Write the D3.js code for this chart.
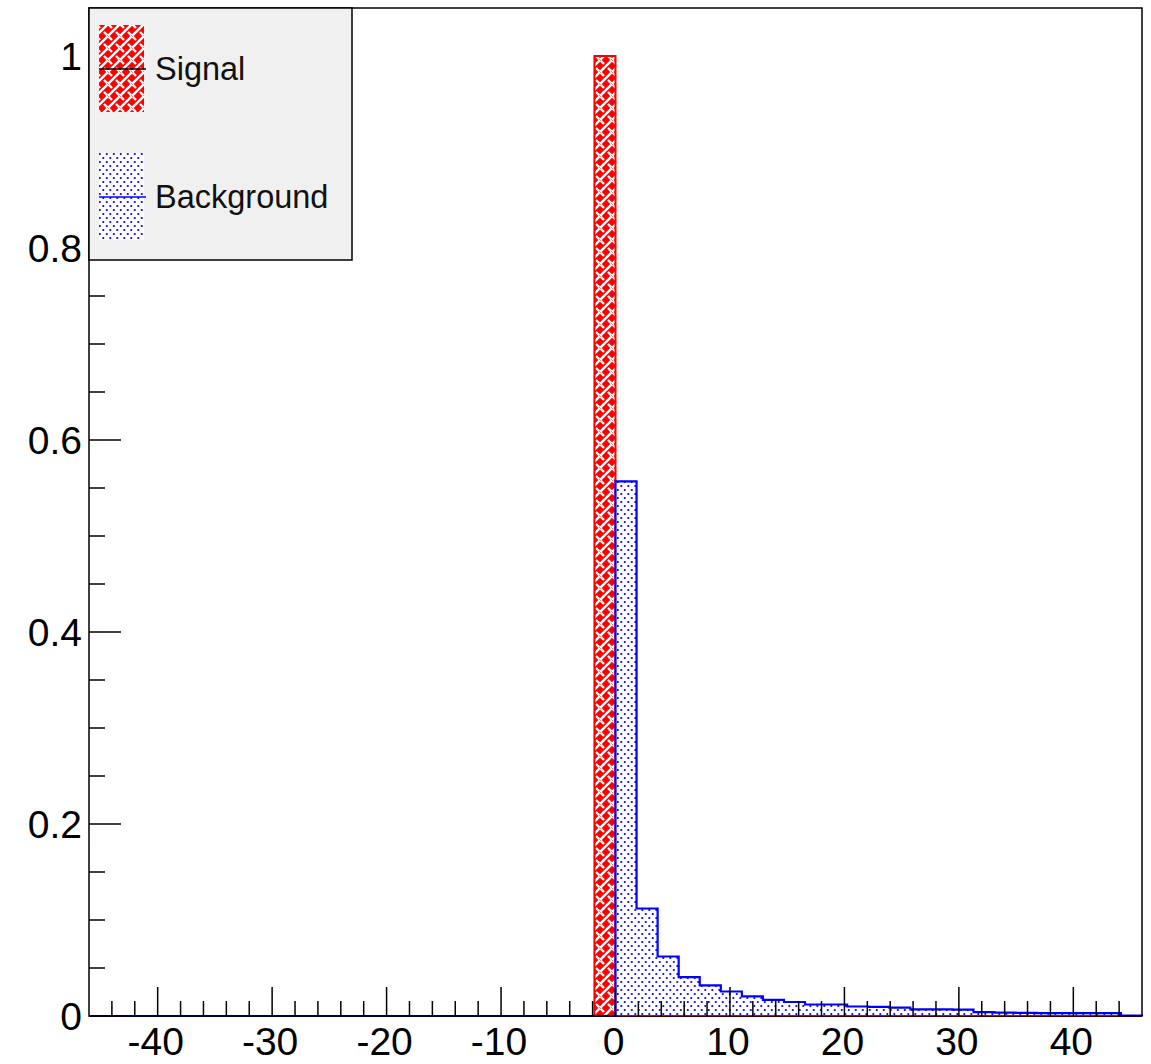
<!DOCTYPE html>
<html>
<head>
<meta charset="utf-8">
<script src="https://d3js.org/d3.v7.min.js"></script>
<style>
  body { margin: 0; background: #fff; }
  text { font-family: "Liberation Sans", Arial, Helvetica, sans-serif; }
</style>
</head>
<body>
<svg id="chart"></svg>
<script>
// histogram binning: 50 bins from -46 to 46
var xMin = -46, xMax = 46, nBins = 50;

// bin contents (normalised)
var signalValues = [
  0, 0, 0, 0, 0, 0, 0, 0, 0, 0,
  0, 0, 0, 0, 0, 0, 0, 0, 0, 0,
  0, 0, 0, 0, 1.0, 0, 0, 0, 0, 0,
  0, 0, 0, 0, 0, 0, 0, 0, 0, 0,
  0, 0, 0, 0, 0, 0, 0, 0, 0, 0
];
var backgroundValues = [
  0, 0, 0, 0, 0, 0, 0, 0, 0, 0,
  0, 0, 0, 0, 0, 0, 0, 0, 0, 0,
  0, 0, 0, 0, 0, 0.557, 0.112, 0.062, 0.0405, 0.032,
  0.0255, 0.0204, 0.0169, 0.0146, 0.012, 0.012, 0.0099, 0.0095, 0.0088, 0.0068,
  0.0068, 0.0066, 0.0040, 0.0035, 0.0032, 0.0030, 0.0030, 0.0029, 0.0029, 0.0005
];

var xTicks = [-40, -30, -20, -10, 0, 10, 20, 30, 40];
var yTicks = [0, 0.2, 0.4, 0.6, 0.8, 1];
var legendLabels = ["Signal", "Background"];

var W = 1151, H = 1064;
var frame = {left: 89, right: 1142, top: 8, bottom: 1016};

var svg = d3.select("#chart").attr("width", W).attr("height", H);

var defs = svg.append("defs");
// red basket weave pattern
var pw = defs.append("pattern").attr("id", "weave")
    .attr("patternUnits", "userSpaceOnUse").attr("width", 12).attr("height", 12);
pw.append("rect").attr("width", 12).attr("height", 12).attr("fill", "#ff0000");
pw.append("path").attr("d", "M-1,13 L13,-1")
    .attr("stroke", "#fff").attr("stroke-width", 2.4).attr("fill", "none");
pw.append("path").attr("d", "M0.5,0.5 L4,4 M8,8 L11.5,11.5")
    .attr("stroke", "#fff").attr("stroke-width", 2.4).attr("fill", "none");
// blue dot pattern
var pd = defs.append("pattern").attr("id", "dots")
    .attr("patternUnits", "userSpaceOnUse").attr("width", 7).attr("height", 8);
pd.append("rect").attr("width", 7).attr("height", 8).attr("fill", "#fff");
pd.append("circle").attr("cx", 1.8).attr("cy", 2).attr("r", 1.1).attr("fill", "#0000ff");
pd.append("circle").attr("cx", 5.3).attr("cy", 6).attr("r", 1.1).attr("fill", "#0000ff");

var x = d3.scaleLinear().domain([xMin, xMax]).range([frame.left, frame.right]);
var y = d3.scaleLinear().domain([0, 1.05]).range([frame.bottom, frame.top]);

var binW = (xMax - xMin) / nBins;

function stepPoints(values) {
  var pts = [[xMin, 0]];
  values.forEach(function(v, i) {
    var x0 = xMin + i * binW, x1 = x0 + binW;
    pts.push([x0, v]);
    pts.push([x1, v]);
  });
  pts.push([xMax, 0]);
  return pts;
}

var line = d3.line().x(function(d) { return x(d[0]); }).y(function(d) { return y(d[1]); });
var area = d3.area().x(function(d) { return x(d[0]); })
    .y0(y(0)).y1(function(d) { return y(d[1]); });

// signal
var sPts = stepPoints(signalValues);
svg.append("path").attr("d", area(sPts)).attr("fill", "url(#weave)");
svg.append("path").attr("d", line(sPts)).attr("fill", "none")
    .attr("stroke", "#ff0000").attr("stroke-width", 2);

// background
var bPts = stepPoints(backgroundValues);
svg.append("path").attr("d", area(bPts)).attr("fill", "url(#dots)");
svg.append("path").attr("d", line(bPts)).attr("fill", "none")
    .attr("stroke", "#0000ff").attr("stroke-width", 2.2);

// axes (ROOT style: ticks inside the frame)
var gx = svg.append("g");
var xMinor = d3.range(xMin + 2, xMax, 2).filter(function(v) { return xTicks.indexOf(v) < 0; });
gx.selectAll(".minor").data(xMinor).enter().append("line")
    .attr("x1", function(d) { return x(d); }).attr("x2", function(d) { return x(d); })
    .attr("y1", frame.bottom).attr("y2", frame.bottom - 15)
    .attr("stroke", "#000").attr("stroke-width", 1.5);
gx.selectAll(".major").data(xTicks).enter().append("line")
    .attr("x1", function(d) { return x(d); }).attr("x2", function(d) { return x(d); })
    .attr("y1", frame.bottom).attr("y2", frame.bottom - 29)
    .attr("stroke", "#000").attr("stroke-width", 1.5);
gx.selectAll("text").data(xTicks).enter().append("text")
    .attr("x", function(d) { return x(d) - 2; }).attr("y", 1055)
    .attr("text-anchor", "middle").attr("font-size", 39)
    .text(function(d) { return d; });

var gy = svg.append("g");
var yMinor = d3.range(0, 21).map(function(i) { return i * 0.05; })
    .filter(function(v, i) { return i % 4 !== 0; });
gy.selectAll(".minor").data(yMinor).enter().append("line")
    .attr("x1", frame.left).attr("x2", frame.left + 16)
    .attr("y1", function(d) { return y(d); }).attr("y2", function(d) { return y(d); })
    .attr("stroke", "#000").attr("stroke-width", 1.5);
gy.selectAll(".major").data(yTicks).enter().append("line")
    .attr("x1", frame.left).attr("x2", frame.left + 32)
    .attr("y1", function(d) { return y(d); }).attr("y2", function(d) { return y(d); })
    .attr("stroke", "#000").attr("stroke-width", 1.5);
gy.selectAll("text").data(yTicks).enter().append("text")
    .attr("x", 82).attr("y", function(d) { return y(d) + 14; })
    .attr("text-anchor", "end").attr("font-size", 39)
    .text(function(d) { return d; });

// frame
svg.append("rect").attr("x", frame.left).attr("y", frame.top)
    .attr("width", frame.right - frame.left).attr("height", frame.bottom - frame.top)
    .attr("fill", "none").attr("stroke", "#000").attr("stroke-width", 1.5);

// legend
var lg = svg.append("g");
lg.append("rect").attr("x", 89).attr("y", 8).attr("width", 263).attr("height", 252)
    .attr("fill", "#f0f0f0").attr("stroke", "#000").attr("stroke-width", 1.5);
var legendFill = ["url(#weave)", "url(#dots)"];
var legendLine = ["#000", "#0000ff"];
var legendY = [69, 197];
legendLabels.forEach(function(lab, i) {
  lg.append("rect").attr("x", 99).attr("y", legendY[i] - 44)
      .attr("width", 45).attr("height", 87).attr("fill", legendFill[i]);
  lg.append("line").attr("x1", 99).attr("x2", 146)
      .attr("y1", legendY[i]).attr("y2", legendY[i])
      .attr("stroke", legendLine[i]).attr("stroke-width", 1.5);
  lg.append("text").attr("x", 155).attr("y", legendY[i] + 11)
      .attr("font-size", 32.5).attr("fill", "#111").text(lab);
});
</script>
</body>
</html>
